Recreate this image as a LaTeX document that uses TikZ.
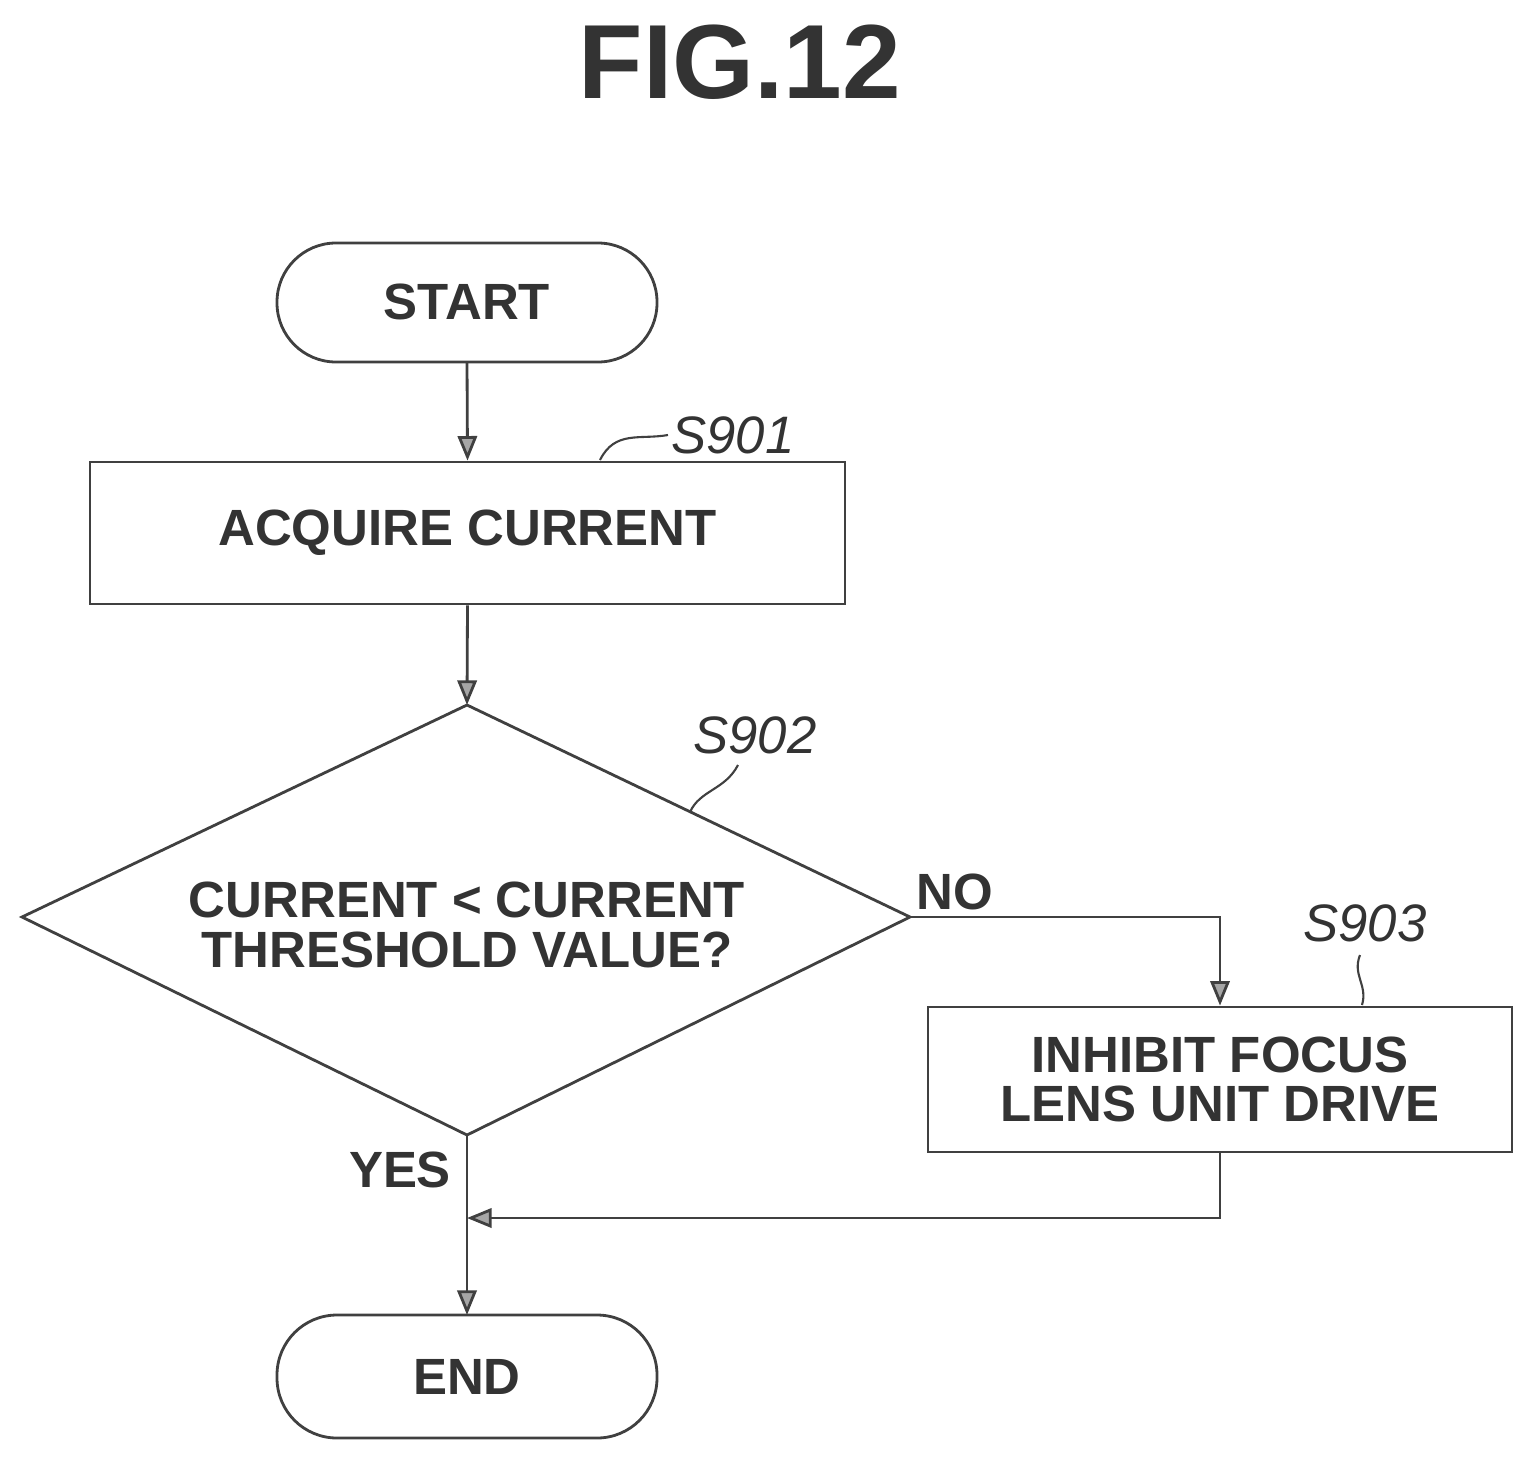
\documentclass[tikz,border=0pt]{standalone}
\usepackage{fontspec}
\setmainfont{Liberation Sans}
\usetikzlibrary{shapes.geometric,arrows.meta}
\begin{document}
\begin{tikzpicture}[x=0.02cm,y=-0.02cm,
  line width=1.6pt, draw=black!75,
  txt/.style={font=\fontsize{29}{34}\selectfont\bfseries, text=black!80, align=center},
  lbl/.style={font=\fontsize{30}{36}\selectfont\itshape, text=black!80},
  arr/.style={-{Triangle[width=11pt,length=14pt,fill=black!35]}}]
\useasboundingbox (0,0) rectangle (1533,1457);
\node[font=\fontsize{60}{66}\selectfont\bfseries, text=black!80] (title) at (740,62) {FIG.12};
\draw[rounded corners=1.18cm] (277,243) rectangle (657,362);
\node[txt] (start) at (467,302) {START};
\coordinate (startb) at (467,362);
\node[draw, minimum width=15.1cm, minimum height=2.84cm] (s901) at (467.5,533) {};
\node[txt] at (s901) {ACQUIRE CURRENT};
\coordinate (dt) at (467,705); \coordinate (dl) at (22,917);
\coordinate (dr) at (910,917); \coordinate (db) at (467,1135);
\draw (dt) -- (dr) -- (db) -- (dl) -- cycle;
\node[txt] (q) at (467,925) {CURRENT < CURRENT\\[-6pt]THRESHOLD VALUE?};
\node[draw, minimum width=11.68cm, minimum height=2.9cm] (s903) at (1220,1079.5) {};
\node[txt] at (s903) {INHIBIT FOCUS\\[-6pt]LENS UNIT DRIVE};
\draw[rounded corners=1.2cm] (277,1315) rectangle (657,1438);
\node[txt] (end) at (467,1377) {END};
\coordinate (endt) at (467,1315);
\coordinate (mg) at (467,1218);
\draw[arr] (startb) -- (s901.north);
\draw[arr] (s901.south) -- (dt);
\draw[arr] (dr) -| (s903.north);
\draw (db) -- (mg);
\draw[arr] (mg) -- (endt);
\draw[arr] (s903.south) |- (mg);
\node[txt] (no) at (955,892) {NO};
\node[txt] (yes) at (400,1170) {YES};
\node[lbl] (l901) at (733,435) {S901};
\node[lbl] (l902) at (755,735) {S902};
\node[lbl] (l903) at (1365,923) {S903};
\draw[line width=1.2pt] (600,460) .. controls (615,430) and (640,440) .. (668,435);
\draw[line width=1.2pt] (690,812) .. controls (700,790) and (725,790) .. (738,765);
\draw[line width=1.2pt] (1362,1005) .. controls (1368,985) and (1352,975) .. (1360,955);
\end{tikzpicture}
\end{document}
